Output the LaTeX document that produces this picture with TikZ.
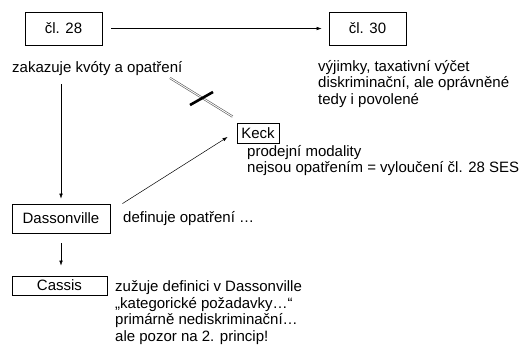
\documentclass[tikz,border=0pt]{standalone}
\usepackage{fontspec}
\setmainfont{Liberation Sans}
\usetikzlibrary{arrows.meta}

\tikzset{
  box/.style={draw, line width=0.8pt, minimum width=77pt, minimum height=33pt, inner sep=0pt},
  txt/.style={anchor=base west, inner sep=0pt, align=left},
  arr/.style={-{Latex[length=5pt,width=3.6pt]}, line width=0.5pt},
  dbl/.style={draw=gray!70!black, double=white, double distance=0.9pt, line width=0.6pt},
  bar/.style={line width=2.6pt},
}

\begin{document}
\begin{tikzpicture}[x=1pt,y=-1pt,font=\fontsize{15}{16.7}\selectfont]
\useasboundingbox (0,0) rectangle (526,349);

\node[box] (c28) at (63.5,28.5) {čl. 28};
\node[box] (c30) at (367.5,28.5) {čl. 30};
\node[txt] (zak) at (12,72) {zakazuje kvóty a opatření};
% base = last line
\node[txt] (vyj) at (318,104.4) {výjimky, taxativní výčet\\diskriminační, ale oprávněné\\tedy i povolené};

\node[box, minimum width=42pt, minimum height=20pt] (keck) at (258,133) {Keck};
\node[txt] (prod) at (247,172.7) {prodejní modality\\nejsou opatřením = vyloučení čl. 28 SES};

\node[box, minimum width=98pt, minimum height=29pt] (dass) at (61,218.5) {Dassonville};
\node[txt] (def) at (123,222.5) {definuje opatření …};

\node[box, minimum width=95pt, minimum height=19pt] (cassis) at (59.5,285.5) {Cassis};
\node[txt] (zuz) at (115,341.5) {zužuje definici v Dassonville\\„kategorické požadavky…“\\primárně nediskriminační…\\ale pozor na 2. princip!};

\coordinate (x1) at (170,78);
\coordinate (b1) at (190,105);
\coordinate (b2) at (213,92);

\draw[arr, shorten <=9pt, shorten >=7pt] (c28) -- (c30);
\draw[arr, shorten <=9pt, shorten >=5pt] (dass.north |- zak.south) -- (dass.north);
\draw[arr, shorten <=10pt, shorten >=10pt] (dass.south) -- (dass.south |- cassis.north);
\draw[arr] ([shift={(12,0)}]dass.north east) -- ([shift={(-9,4)}]keck.west);

\draw[dbl] (x1) -- ([shift={(-4,-6)}]keck.north west);
\draw[bar] (b1) -- (b2);
\end{tikzpicture}
\end{document}
